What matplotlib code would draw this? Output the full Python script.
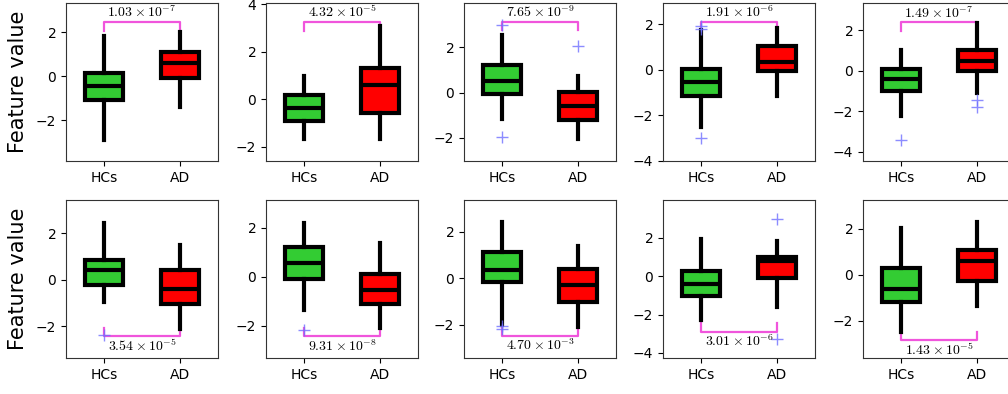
import numpy as np
import matplotlib
matplotlib.use("Agg")
import matplotlib.pyplot as plt
from matplotlib.ticker import MultipleLocator

plt.rcParams['mathtext.fontset'] = 'cm'

groups = ['HCs', 'AD']

# box statistics per panel: [HCs, AD] -> (whislo, q1, med, q3, whishi)
hcs_stats = [
    (-2.90, -1.09, -0.45, 0.12, 1.82),
    (-1.66, -0.93, -0.37, 0.17, 0.97),
    (-1.18, -0.07, 0.49, 1.22, 2.55),
    (-2.50, -1.15, -0.53, 0.02, 1.74),
    (-2.23, -0.98, -0.42, 0.07, 1.02),
    (-0.96, -0.25, 0.44, 0.87, 2.46),
    (-1.37, -0.10, 0.57, 1.20, 2.19),
    (-2.00, -0.15, 0.36, 1.14, 2.40),
    (-2.28, -1.04, -0.43, 0.26, 1.90),
    (-2.46, -1.16, -0.61, 0.29, 2.03),
]
ad_stats = [
    (-1.42, -0.08, 0.60, 1.10, 2.00),
    (-1.66, -0.60, 0.59, 1.32, 3.09),
    (-2.06, -1.21, -0.59, 0.02, 0.74),
    (-1.15, -0.04, 0.35, 1.05, 1.82),
    (-1.08, 0.00, 0.48, 1.05, 2.36),
    (-2.11, -1.06, -0.42, 0.44, 1.48),
    (-2.07, -1.13, -0.55, 0.10, 1.37),
    (-2.08, -1.00, -0.29, 0.40, 1.40),
    (-1.59, -0.12, 0.76, 1.00, 1.83),
    (-1.35, -0.26, 0.61, 1.09, 2.29),
]
hcs_fliers = [[], [], [2.98, -1.99], [1.92, 1.77, -2.98], [-3.41],
              [-2.40], [-2.19], [-2.05, -2.19], [], []]
ad_fliers = [[], [], [2.07], [], [-1.45, -1.80],
             [], [], [], [2.94, -3.26], []]

p_values = ['1.03', '4.32', '7.65', '1.91', '1.49',
            '3.54', '9.31', '4.70', '3.01', '1.43']
p_exps = [-7, -5, -9, -6, -7, -5, -8, -3, -6, -5]

# bracket: (tick end, bar level)
brackets = [(2.04, 2.45), (2.87, 3.25), (2.77, 3.13), (1.74, 2.10), (1.96, 2.40),
            (-2.07, -2.43), (-2.07, -2.42), (-2.08, -2.46), (-2.45, -2.92), (-2.46, -2.83)]

ylims = [(-3.86, 3.32), (-2.60, 4.05), (-3.03, 3.96), (-4.00, 2.93), (-4.46, 3.35),
         (-3.38, 3.44), (-3.31, 3.12), (-3.42, 3.36), (-4.26, 3.95), (-3.61, 3.26)]

W, H = 1008, 394
fig = plt.figure(figsize=(W / 100, H / 100), dpi=100)

lefts = [66, 266, 464, 663, 863]
tops = [3, 200]
aw, ah = 152, 158

box_colors = ['#33cc33', '#ff0000']
pink = '#f055dc'

for i in range(10):
    r, c = divmod(i, 5)
    ax = fig.add_axes([lefts[c] / W, 1 - (tops[r] + ah) / H, aw / W, ah / H])
    stats = []
    for k, (s, fl) in enumerate([(hcs_stats[i], hcs_fliers[i]), (ad_stats[i], ad_fliers[i])]):
        stats.append(dict(whislo=s[0], q1=s[1], med=s[2], q3=s[3], whishi=s[4],
                          fliers=np.array(fl), label=groups[k]))
    bp = ax.bxp(stats, positions=[1, 2], widths=0.5, patch_artist=True, showcaps=False,
                boxprops=dict(linewidth=3, edgecolor='black'),
                whiskerprops=dict(linewidth=3, color='black'),
                medianprops=dict(linewidth=3, color='black'),
                flierprops=dict(marker='+', markeredgecolor='#7070ff', markersize=8,
                                alpha=0.8, linestyle='none'))
    for patch, col in zip(bp['boxes'], box_colors):
        patch.set_facecolor(col)

    # bracket with p-value
    y0, y1 = brackets[i]
    ax.plot([1, 1, 2, 2], [y0, y1, y1, y0], color=pink, lw=1.6, zorder=1)
    label = r'$%s\times10^{%d}$' % (p_values[i], p_exps[i])
    if r == 0:
        ax.text(1.5, y1 + 0.08, label, ha='center', va='bottom', fontsize=10)
    else:
        ax.text(1.5, y1 - 0.08, label, ha='center', va='top', fontsize=10)

    ax.set_xlim(0.5, 2.5)
    ax.set_ylim(*ylims[i])
    ax.yaxis.set_major_locator(MultipleLocator(2))
    ax.tick_params(labelsize=10)
    for sp in ax.spines.values():
        sp.set_color('#333333')
    if c == 0:
        ax.set_ylabel('Feature value', fontsize=15)
        ax.yaxis.set_label_coords(-0.25, 0.5)

fig.savefig('out.png', dpi=100)
